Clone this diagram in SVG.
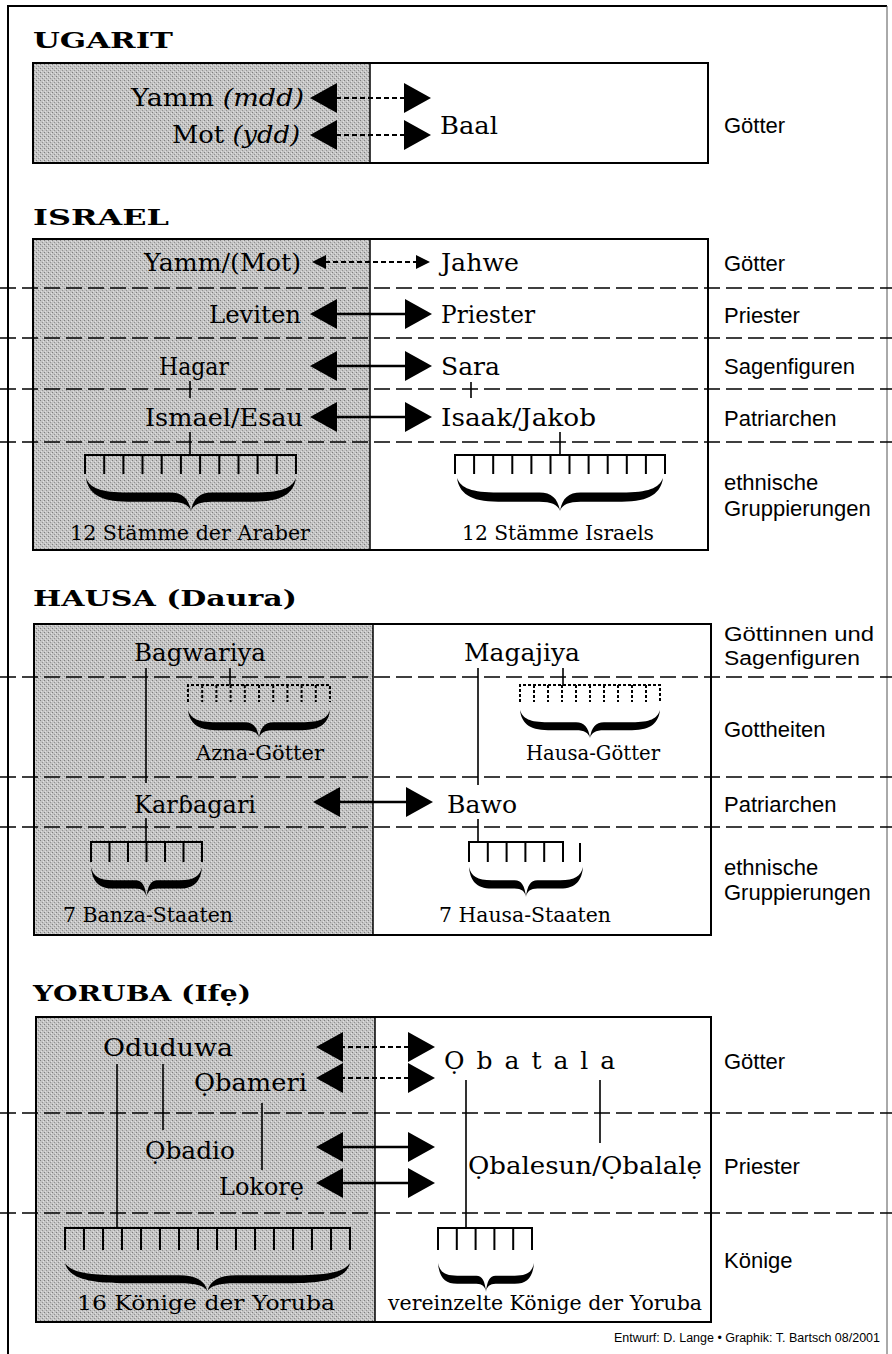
<svg xmlns="http://www.w3.org/2000/svg" xmlns:xlink="http://www.w3.org/1999/xlink" width="892" height="1354" viewBox="0 0 892 1354">
<style>
.t{font-family:"DejaVu Serif","Liberation Serif",serif;font-size:25px;fill:#000}
.g{font-family:"DejaVu Serif","Liberation Serif",serif;font-size:21px;fill:#000}
.r{font-family:"Liberation Sans",Arial,sans-serif;font-size:22px;fill:#000}
.rs{font-family:"Liberation Sans",Arial,sans-serif;font-size:20px;fill:#000}
.h{font-family:"DejaVu Serif","Liberation Serif",serif;font-weight:bold;font-size:22px;fill:#000}
.box{fill:#fff;stroke:#000;stroke-width:2}
.gray{fill:url(#stip)}
.sep{stroke:#000;stroke-width:1.5;stroke-dasharray:16 6;fill:none}
.ln{stroke:#000;stroke-width:1.6;fill:none}
.comb{stroke:#000;stroke-width:2;fill:none}
.dcomb{stroke:#000;stroke-width:2;fill:none;stroke-dasharray:3 2}
.sa{stroke:#000;stroke-width:2.5;fill:none}
.da{stroke:#000;stroke-width:2;fill:none;stroke-dasharray:5 3}
</style>
<defs>
<pattern id="stip" width="4" height="4" patternUnits="userSpaceOnUse">
<rect width="4" height="4" fill="#c4c4c4"/>
<rect x="0" y="0" width="1" height="1" fill="#7e7e7e"/>
<rect x="2" y="2" width="1" height="1" fill="#929292"/>
<rect x="3" y="1" width="1" height="1" fill="#e2e2e2"/>
<rect x="1" y="3" width="1" height="1" fill="#dedede"/>
</pattern>
<symbol id="brace" viewBox="0 0 200 32" preserveAspectRatio="none">
<path d="M0,0 C4,10 14,14 40,14 L80,14 C92,14 98,20 100,32 C102,20 108,14 120,14 L160,14 C186,14 196,10 200,0 C198,14 188,23 160,23 L120,23 C108,23 102,26 100,32 C98,26 92,23 80,23 L40,23 C12,23 2,14 0,0 Z" fill="#000"/>
</symbol>
<path id="hl" d="M0,0 L27,-15 L27,15 Z" fill="#000"/>
<path id="hr" d="M0,0 L-27,-15 L-27,15 Z" fill="#000"/>
<path id="shl" d="M0,0 L14,-7 L14,7 Z" fill="#000"/>
<path id="shr" d="M0,0 L-14,-7 L-14,7 Z" fill="#000"/>
</defs>
<rect width="892" height="1354" fill="#fff"/>
<g id="frame" stroke="#000" fill="none">
<path d="M8,1354 V6 H887" stroke-width="2"/>
<path d="M887,6 V1354" stroke-width="1" stroke="#555"/>
</g>

<!-- UGARIT -->
<g id="ugarit">
<text class="h" x="33" y="48" textLength="140" lengthAdjust="spacingAndGlyphs">UGARIT</text>
<rect class="box" x="33" y="63" width="675" height="100"/>
<rect class="gray" x="34" y="64" width="336" height="98"/>
<line x1="370" y1="63" x2="370" y2="163" stroke="#000" stroke-width="1.5"/>
</g>
<g id="u-yamm"><text class="t" x="304" y="106" text-anchor="end" textLength="173" lengthAdjust="spacingAndGlyphs">Yamm <tspan font-style="italic">(mdd)</tspan></text></g>
<g id="u-mot"><text class="t" x="300" y="143" text-anchor="end" textLength="128" lengthAdjust="spacingAndGlyphs">Mot <tspan font-style="italic">(ydd)</tspan></text></g>
<g id="u-baal"><text class="t" x="440" y="134" textLength="58" lengthAdjust="spacingAndGlyphs">Baal</text></g>
<g id="u-goetter"><text class="r" x="724" y="133">Götter</text></g>

<!-- ISRAEL -->
<g id="israel">
<text class="h" x="33" y="225" textLength="136" lengthAdjust="spacingAndGlyphs">ISRAEL</text>
<rect class="box" x="33" y="239" width="675" height="311"/>
<rect class="gray" x="34" y="240" width="336" height="309"/>
<line x1="370" y1="239" x2="370" y2="550" stroke="#000" stroke-width="1.5"/>
</g>
<g id="i-seps">
<line class="sep" x1="0" y1="288" x2="892" y2="288"/>
<line class="sep" x1="0" y1="338" x2="892" y2="338"/>
<line class="sep" x1="0" y1="389" x2="892" y2="389"/>
<line class="sep" x1="0" y1="442" x2="892" y2="442"/>
</g>
<g id="i-yamm"><text class="t" x="301" y="271" text-anchor="end" textLength="157" lengthAdjust="spacingAndGlyphs">Yamm/(Mot)</text></g>
<g id="i-jahwe"><text class="t" x="441" y="271" textLength="78" lengthAdjust="spacingAndGlyphs">Jahwe</text></g>
<g id="i-leviten"><text class="t" x="301" y="323" text-anchor="end" textLength="92" lengthAdjust="spacingAndGlyphs">Leviten</text></g>
<g id="i-priester"><text class="t" x="441" y="323" textLength="94" lengthAdjust="spacingAndGlyphs">Priester</text></g>
<g id="i-hagar"><text class="t" x="194" y="375" text-anchor="middle" textLength="70" lengthAdjust="spacingAndGlyphs">Hagar</text></g>
<g id="i-sara"><text class="t" x="441" y="375" textLength="59" lengthAdjust="spacingAndGlyphs">Sara</text></g>
<g id="i-ismael"><text class="t" x="303" y="426" text-anchor="end" textLength="158" lengthAdjust="spacingAndGlyphs">Ismael/Esau</text></g>
<g id="i-isaak"><text class="t" x="441" y="426" textLength="155" lengthAdjust="spacingAndGlyphs">Isaak/Jakob</text></g>
<g id="i-araber"><text class="g" x="190" y="540" text-anchor="middle" textLength="240" lengthAdjust="spacingAndGlyphs">12 Stämme der Araber</text></g>
<g id="i-israels"><text class="g" x="558" y="540" text-anchor="middle" textLength="192" lengthAdjust="spacingAndGlyphs">12 Stämme Israels</text></g>
<g id="i-labels">
<text class="r" x="724" y="271">Götter</text>
<text class="r" x="724" y="323">Priester</text>
<text class="r" x="724" y="374">Sagenfiguren</text>
<text class="r" x="724" y="426">Patriarchen</text>
<text class="r" x="724" y="490">ethnische</text>
<text class="r" x="724" y="516">Gruppierungen</text>
</g>

<!-- HAUSA -->
<g id="hausa">
<text class="h" x="33" y="606" textLength="264" lengthAdjust="spacingAndGlyphs">HAUSA (Daura)</text>
<rect class="box" x="34" y="624" width="677" height="311"/>
<rect class="gray" x="35" y="625" width="338" height="309"/>
<line x1="373" y1="624" x2="373" y2="935" stroke="#000" stroke-width="1.5"/>
</g>
<g id="h-seps">
<line class="sep" x1="0" y1="677" x2="892" y2="677"/>
<line class="sep" x1="0" y1="777" x2="892" y2="777"/>
<line class="sep" x1="0" y1="827" x2="892" y2="827"/>
</g>
<g id="h-bagwariya"><text class="t" x="200" y="661" text-anchor="middle" textLength="132" lengthAdjust="spacingAndGlyphs">Bagwariya</text></g>
<g id="h-magajiya"><text class="t" x="522" y="661" text-anchor="middle" textLength="116" lengthAdjust="spacingAndGlyphs">Magajiya</text></g>
<g id="h-azna"><text class="g" x="260" y="760" text-anchor="middle" textLength="128" lengthAdjust="spacingAndGlyphs">Azna-Götter</text></g>
<g id="h-hausagoetter"><text class="g" x="593" y="760" text-anchor="middle" textLength="134" lengthAdjust="spacingAndGlyphs">Hausa-Götter</text></g>
<g id="h-karbagari"><text class="t" x="195" y="813" text-anchor="middle" textLength="122" lengthAdjust="spacingAndGlyphs">Karɓagari</text></g>
<g id="h-bawo"><text class="t" x="447" y="813" textLength="70" lengthAdjust="spacingAndGlyphs">Bawo</text></g>
<g id="h-banza"><text class="g" x="148" y="922" text-anchor="middle" textLength="170" lengthAdjust="spacingAndGlyphs">7 Banza-Staaten</text></g>
<g id="h-hausastaaten"><text class="g" x="525" y="922" text-anchor="middle" textLength="172" lengthAdjust="spacingAndGlyphs">7 Hausa-Staaten</text></g>
<g id="h-labels">
<text class="rs" x="724" y="641" textLength="150" lengthAdjust="spacingAndGlyphs">Göttinnen und</text>
<text class="rs" x="724" y="665" textLength="136" lengthAdjust="spacingAndGlyphs">Sagenfiguren</text>
<text class="r" x="724" y="737">Gottheiten</text>
<text class="r" x="724" y="812">Patriarchen</text>
<text class="r" x="724" y="875">ethnische</text>
<text class="r" x="724" y="900">Gruppierungen</text>
</g>

<!-- YORUBA -->
<g id="yoruba">
<text class="h" x="33" y="1001" textLength="218" lengthAdjust="spacingAndGlyphs">YORUBA (Ifẹ)</text>
<rect class="box" x="36" y="1017" width="675" height="305"/>
<rect class="gray" x="37" y="1018" width="338" height="303"/>
<line x1="375" y1="1017" x2="375" y2="1322" stroke="#000" stroke-width="1.5"/>
</g>
<g id="y-seps">
<line class="sep" x1="0" y1="1113" x2="892" y2="1113"/>
<line class="sep" x1="0" y1="1213" x2="892" y2="1213"/>
</g>
<g id="y-oduduwa"><text class="t" x="168" y="1056" text-anchor="middle" textLength="130" lengthAdjust="spacingAndGlyphs">Oduduwa</text></g>
<g id="y-obameri"><text class="t" x="307" y="1091" text-anchor="end" textLength="113" lengthAdjust="spacingAndGlyphs">Ọbameri</text></g>
<g id="y-obatala"><text class="t" x="444" y="1069" letter-spacing="12">Ọbatala</text></g>
<g id="y-obadio"><text class="t" x="190" y="1159" text-anchor="middle" textLength="90" lengthAdjust="spacingAndGlyphs">Ọbadio</text></g>
<g id="y-lokore"><text class="t" x="304" y="1195" text-anchor="end" textLength="85" lengthAdjust="spacingAndGlyphs">Lokorẹ</text></g>
<g id="y-obalesun"><text class="t" x="468" y="1174" textLength="234" lengthAdjust="spacingAndGlyphs">Ọbalesun/Ọbalalẹ</text></g>
<g id="y-16"><text class="g" x="206" y="1310" text-anchor="middle" textLength="258" lengthAdjust="spacingAndGlyphs">16 Könige der Yoruba</text></g>
<g id="y-vereinzelte"><text class="g" x="545" y="1310" text-anchor="middle" textLength="314" lengthAdjust="spacingAndGlyphs">vereinzelte Könige der Yoruba</text></g>
<g id="y-labels">
<text class="r" x="724" y="1069">Götter</text>
<text class="r" x="724" y="1174">Priester</text>
<text class="r" x="724" y="1268">Könige</text>
</g>
<g id="footer"><text x="880" y="1342" text-anchor="end" font-family="Liberation Sans, Arial, sans-serif" font-size="12.5">Entwurf: D. Lange • Graphik: T. Bartsch 08/2001</text></g>

<!-- connectors -->
<g id="connectors">
<line class="da" x1="336" y1="98" x2="404" y2="98"/>
<use href="#hl" x="310" y="98"/><use href="#hr" x="431" y="98"/>
<line class="da" x1="336" y1="135" x2="404" y2="135"/>
<use href="#hl" x="310" y="135"/><use href="#hr" x="431" y="135"/>
<line class="da" x1="325" y1="262" x2="418" y2="262"/>
<use href="#shl" x="312" y="262"/><use href="#shr" x="430" y="262"/>
<line class="sa" x1="335" y1="314" x2="406" y2="314"/>
<use href="#hl" x="310" y="314"/><use href="#hr" x="432" y="314"/>
<line class="sa" x1="335" y1="366" x2="406" y2="366"/>
<use href="#hl" x="310" y="366"/><use href="#hr" x="432" y="366"/>
<line class="sa" x1="335" y1="417" x2="406" y2="417"/>
<use href="#hl" x="310" y="417"/><use href="#hr" x="432" y="417"/>
<path class="ln" d="M190,381V398 M471,382V398 M190,432V455 M560,432V455"/>
<path class="comb" d="M85,474V455H296V474 M104.2,455V474 M123.4,455V474 M142.5,455V474 M161.7,455V474 M180.9,455V474 M200.1,455V474 M219.3,455V474 M238.5,455V474 M257.6,455V474 M276.8,455V474"/>
<path class="comb" d="M455,474V455H665V474 M474.1,455V474 M493.2,455V474 M512.3,455V474 M531.4,455V474 M550.5,455V474 M569.5,455V474 M588.6,455V474 M607.7,455V474 M626.8,455V474 M645.9,455V474"/>
<use href="#brace" x="86" y="478" width="210" height="33"/>
<use href="#brace" x="457" y="478" width="206" height="33"/>
<path class="ln" d="M146,668V783 M230,668V685 M478,668V785 M563,668V685 M146,818V842 M478,819V842"/>
<path class="dcomb" d="M188,702V685H330V702 M202.2,685V702 M216.4,685V702 M230.6,685V702 M244.8,685V702 M259,685V702 M273.2,685V702 M287.4,685V702 M301.6,685V702 M315.8,685V702"/>
<path class="dcomb" d="M520,702V685H660V702 M534,685V702 M548,685V702 M562,685V702 M576,685V702 M590,685V702 M604,685V702 M618,685V702 M632,685V702 M646,685V702"/>
<use href="#brace" x="188" y="710" width="142" height="28"/>
<use href="#brace" x="520" y="710" width="140" height="28"/>
<line class="sa" x1="338" y1="802" x2="408" y2="802"/>
<use href="#hl" x="313" y="802"/><use href="#hr" x="433" y="802"/>
<path class="comb" d="M91,862V842H202V862 M109.5,842V862 M128,842V862 M146.5,842V862 M165,842V862 M183.5,842V862"/>
<path class="comb" d="M469,862V842H563V862 M487.8,842V862 M506.6,842V862 M525.4,842V862 M544.2,842V862 M580,843V862"/>
<use href="#brace" x="91" y="867" width="111" height="30"/>
<use href="#brace" x="469" y="867" width="114" height="30"/>
<line class="da" x1="340" y1="1047" x2="410" y2="1047"/>
<use href="#hl" x="316" y="1047"/><use href="#hr" x="435" y="1047"/>
<line class="da" x1="340" y1="1078" x2="410" y2="1078"/>
<use href="#hl" x="316" y="1078"/><use href="#hr" x="435" y="1078"/>
<line class="sa" x1="340" y1="1147" x2="410" y2="1147"/>
<use href="#hl" x="316" y="1147"/><use href="#hr" x="435" y="1147"/>
<line class="sa" x1="340" y1="1183" x2="410" y2="1183"/>
<use href="#hl" x="316" y="1183"/><use href="#hr" x="435" y="1183"/>
<path class="ln" d="M117,1064V1228 M163,1064V1130 M262,1103V1170 M466,1080V1228 M600,1080V1143"/>
<path class="comb" d="M65,1250V1228H350V1250 M84,1228V1250 M103,1228V1250 M122,1228V1250 M141,1228V1250 M160,1228V1250 M179,1228V1250 M198,1228V1250 M217,1228V1250 M236,1228V1250 M255,1228V1250 M274,1228V1250 M293,1228V1250 M312,1228V1250 M331,1228V1250"/>
<path class="comb" d="M438,1250V1228H532V1250 M456.8,1228V1250 M475.6,1228V1250 M494.4,1228V1250 M513.2,1228V1250"/>
<use href="#brace" x="65" y="1263" width="285" height="28"/>
<use href="#brace" x="438" y="1263" width="96" height="29"/>
</g>
</svg>
